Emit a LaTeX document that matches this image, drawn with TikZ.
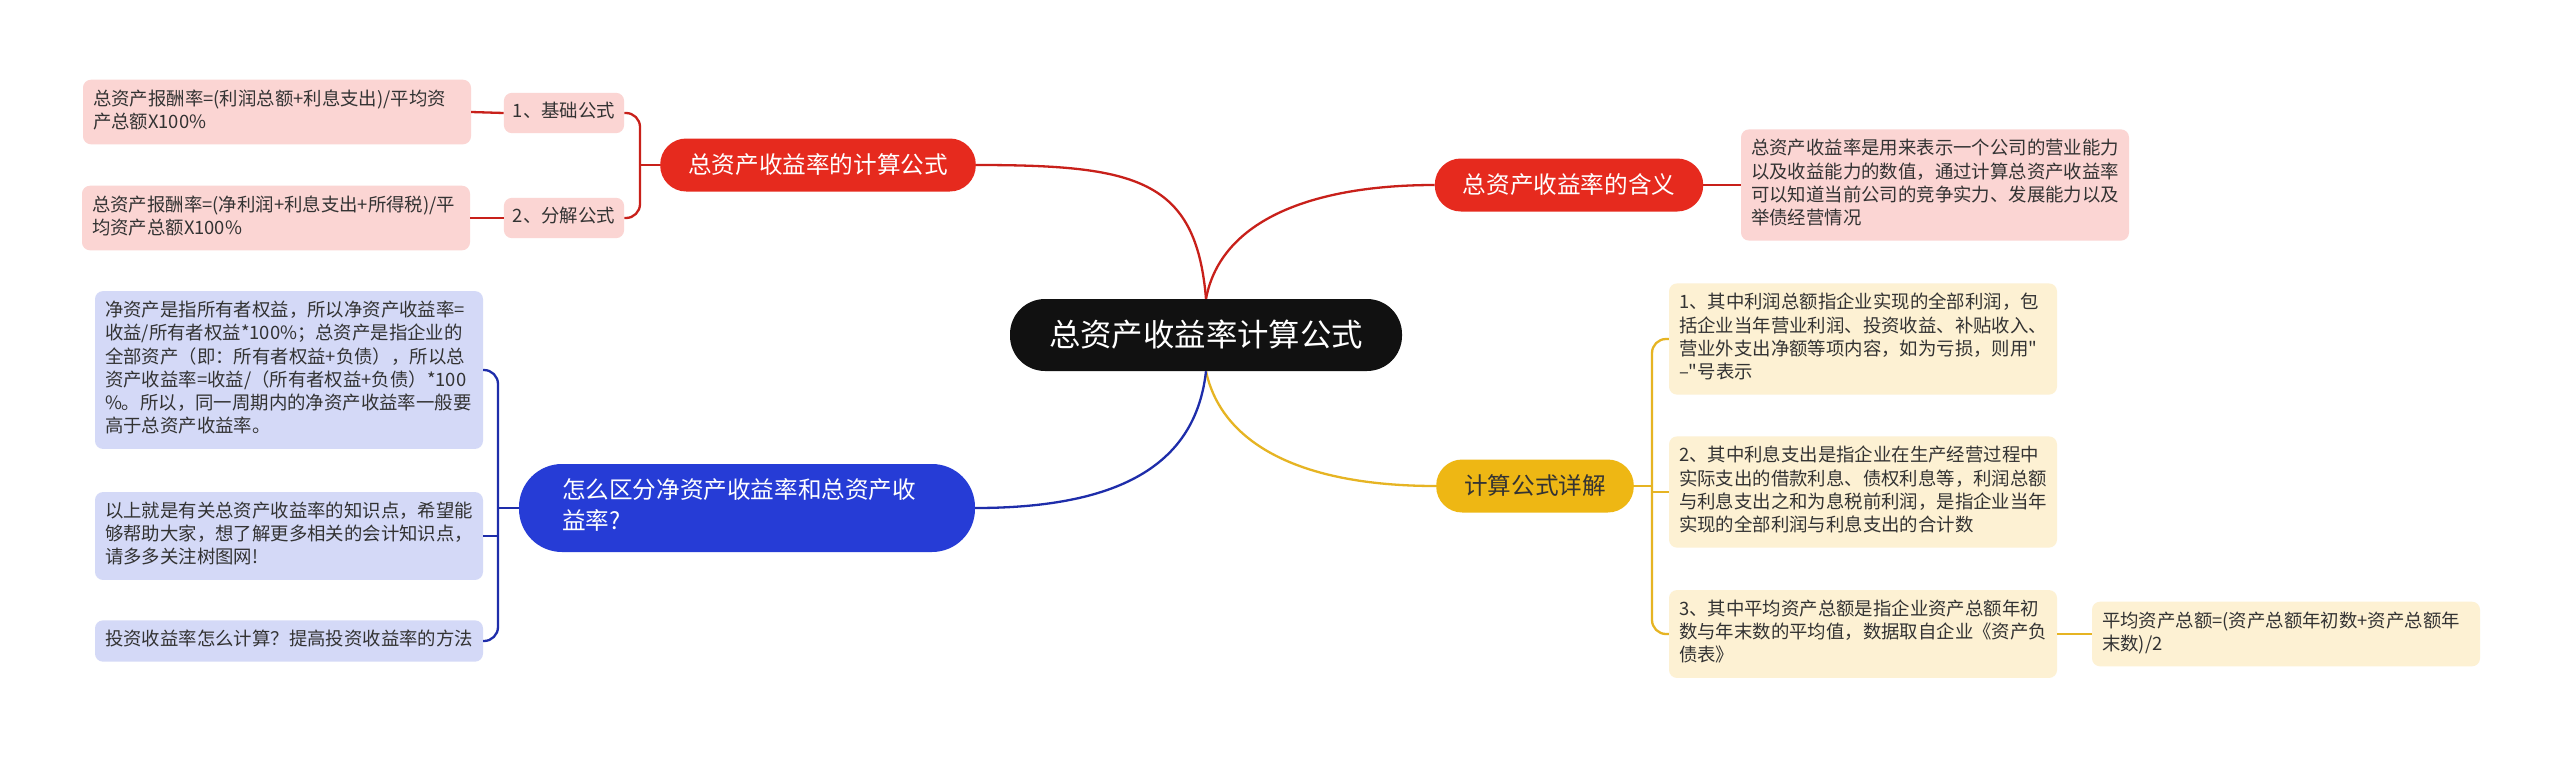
\documentclass[tikz,border=0pt]{standalone}
\usepackage{fontspec}
\setmainfont{Noto Sans CJK SC}
\newfontfamily\rawfont{Noto Sans CJK SC}
\definecolor{rootbg}{HTML}{111111}
\definecolor{redfill}{HTML}{E62A1E}
\definecolor{redleaf}{HTML}{FBD5D3}
\definecolor{redwire}{HTML}{C8201A}
\definecolor{yelfill}{HTML}{EEB714}
\definecolor{yelleaf}{HTML}{FDF1D3}
\definecolor{yelwire}{HTML}{E6B423}
\definecolor{bluefill}{HTML}{263CD6}
\definecolor{blueleaf}{HTML}{D4D9F7}
\definecolor{bluewire}{HTML}{1E2DAA}
\definecolor{leaftext}{HTML}{333333}
\newcommand\leaffont{\fontsize{18.4}{23.3}\selectfont}
\newcommand\branchfont{\fontsize{23.6}{31}\selectfont}
\newcommand\rootfont{\fontsize{31.4}{38}\selectfont}
\begin{document}
\begin{tikzpicture}[x = 1pt, y = -1pt,
  leaf/.style = {rectangle, rounded corners = 8pt, inner xsep = 10pt, inner ysep = 9pt, text width = 368pt, align = left, font = \leaffont, text = leaftext, execute at begin node = {\parindent=0pt\strut}, execute at end node = \strut},
  tag/.style = {rectangle, rounded corners = 8pt, inner xsep = 9pt, inner ysep = 8.5pt, font = \leaffont, text = leaftext, fill = redleaf, execute at begin node = \strut},
  pill/.style = {rectangle, rounded corners = 26pt, minimum height = 53pt, inner xsep = 28pt, font = \branchfont},
  redline/.style = {draw = redwire, line width = 2.3pt},
  yelline/.style = {draw = yelwire, line width = 2.3pt},
  blueline/.style = {draw = bluewire, line width = 2.3pt}]
\fill[white] (0,0) rectangle (2560,758);
\useasboundingbox (0,0) rectangle (2560,758);
\node[rectangle, rounded corners = 35pt, minimum height = 72pt, inner xsep = 39pt, fill = rootbg, text = white, font = \rootfont] (root) at (1206,335) {总资产收益率计算公式};
\node[pill, fill = redfill, text = white] (calc) at (818,165) {总资产收益率的计算公式};
\node[tag] (j1) at (564,113) {1、基础公式};
\node[tag] (j2) at (564,218) {2、分解公式};
\node[leaf, fill = redleaf] (ra) at (277,112) {总资产报酬率=(利润总额+利息支出)/平均资\\产总额X100\%};
\node[leaf, fill = redleaf] (rb) at (276,218) {总资产报酬率=(净利润+利息支出+所得税)/平\\均资产总额X100\%};
\node[pill, fill = redfill, text = white] (mean) at (1569,185) {总资产收益率的含义};
\node[leaf, fill = redleaf] (ml) at (1935,185) {总资产收益率是用来表示一个公司的营业能力\\以及收益能力的数值，通过计算总资产收益率\\可以知道当前公司的竞争实力、发展能力以及\\举债经营情况};
\node[pill, fill = yelfill, text = leaftext] (yp) at (1535,486) {计算公式详解};
\node[leaf, fill = yelleaf] (y1) at (1863,339) {1、其中利润总额指企业实现的全部利润，包\\括企业当年营业利润、投资收益、补贴收入、\\营业外支出净额等项内容，如为亏损，则用{\rawfont"}\\{\rawfont–"}号表示};
\node[leaf, fill = yelleaf] (y2) at (1863,492) {2、其中利息支出是指企业在生产经营过程中\\实际支出的借款利息、债权利息等，利润总额\\与利息支出之和为息税前利润，是指企业当年\\实现的全部利润与利息支出的合计数};
\node[leaf, fill = yelleaf] (y3) at (1863,634) {3、其中平均资产总额是指企业资产总额年初\\数与年末数的平均值，数据取自企业《资产负\\债表》};
\node[leaf, fill = yelleaf] (y4) at (2286,634) {平均资产总额=(资产总额年初数+资产总额年\\末数)/2};
\node[pill, rounded corners = 43pt, minimum height = 88pt, inner xsep = 43pt, text width = 370pt, align = left, fill = bluefill, text = white, execute at begin node = \strut, execute at end node = \strut] (bp) at (747,508) {怎么区分净资产收益率和总资产收\\益率?};
\node[leaf, fill = blueleaf] (b1) at (289,370) {净资产是指所有者权益，所以净资产收益率=\\收益/所有者权益*100\%；总资产是指企业的\\全部资产（即：所有者权益+负债），所以总\\资产收益率=收益/（所有者权益+负债）*100\\\%。所以，同一周期内的净资产收益率一般要\\高于总资产收益率。};
\node[leaf, fill = blueleaf] (b2) at (289,536) {以上就是有关总资产收益率的知识点，希望能\\够帮助大家，想了解更多相关的会计知识点，\\请多多关注树图网!};
\node[leaf, fill = blueleaf] (b3) at (289,641) {投资收益率怎么计算？提高投资收益率的方法};
\coordinate (rk) at (640,165);
\coordinate (yk) at (1652,486);
\coordinate (bk) at (498,508);
\draw[redline] (root.north) .. controls +(-10,-120) and +(160,0) .. (calc.east);
\draw[redline] (root.north) .. controls +(15,-80) and +(-120,0) .. (mean.west);
\draw[yelline] (root.south) .. controls +(15,70) and +(-140,0) .. (yp.west);
\draw[blueline] (root.south) .. controls +(-10,90) and +(150,0) .. (bp.east);
\draw[redline] (calc.west) -- (rk);
\draw[redline, rounded corners = 14pt] (j1.east) -| (rk) |- (j2.east);
\draw[redline] (j1.west) -- (ra.east);
\draw[redline] (j2.west) -- (rb.east);
\draw[redline] (mean.east) -- (ml.west);
\draw[yelline] (yp.east) -- (yk);
\draw[yelline, rounded corners = 14pt] (y1.west) -| (yk) |- (y3.west);
\draw[yelline] (y2.west) -- (y2.west -| yk);
\draw[yelline] (y3.east) -- (y4.west);
\draw[blueline] (bp.west) -- (bk);
\draw[blueline, rounded corners = 14pt] (b1.east) -| (bk) |- (b3.east);
\draw[blueline] (b2.east) -- (b2.east -| bk);
\end{tikzpicture}
\end{document}
